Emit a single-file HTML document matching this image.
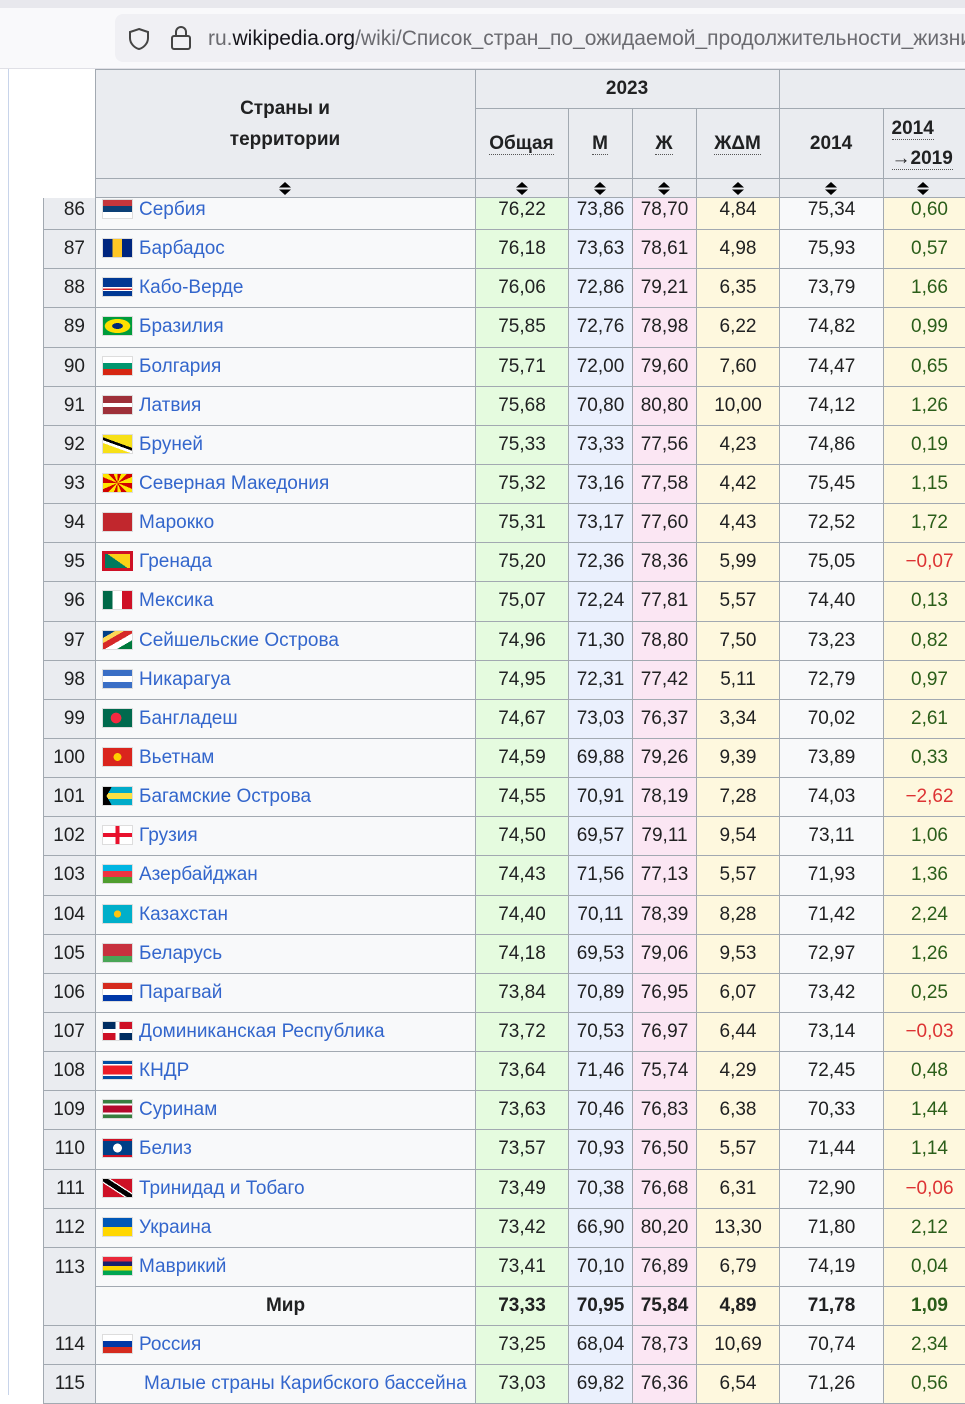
<!DOCTYPE html>
<html><head><meta charset="utf-8">
<style>
*{box-sizing:border-box;margin:0;padding:0}
body{width:965px;height:1395px;overflow:hidden;background:#fff;font-family:"Liberation Sans",Arial,sans-serif;position:relative;color:#202122}
.topbar{position:absolute;left:0;top:0;width:965px;height:8px;background:#e8e8ed}
.urlbar{position:absolute;left:0;top:8px;width:965px;height:61px;background:#f9f9fb;border-bottom:1px solid #e0e0e6}
.pill{position:absolute;left:115px;top:14px;width:860px;height:48px;background:#f0f0f4;border-radius:8px}
.url{position:absolute;left:208px;top:27px;font-size:21px;color:#6b6b70;white-space:nowrap}
.url b{font-weight:normal;color:#15141a}
.vline{position:absolute;left:8px;top:69px;width:1px;height:1326px;background:#c8d4ea}
table{border-collapse:collapse;table-layout:fixed;position:absolute;left:43px;width:932px;font-size:19px}
td{border:1px solid #a2a9b1;height:39.15px;padding:0;white-space:nowrap;overflow:hidden}
.r{background:#eaecf0;text-align:right;padding-right:10px}
.c{background:#f8f9fa;color:#3366cc;padding-left:6px}
.c i{display:inline-block;width:31px;height:20px;vertical-align:-4px;margin-right:6px;border:1px solid #ddd}
.t{background:#e5fbdf;text-align:center}
.m{background:#eaf0fd;text-align:center}
.f{background:#fbe6f3;text-align:center}
.d{background:#fef8de;text-align:center}
.y{background:#f8f9fa;text-align:center}
.g{background:#fef8de;text-align:center;color:#2b5e1a}
.n{color:#d33}
.w td{font-weight:bold}
.hd{position:absolute;left:43px;top:69px;z-index:2}
.hd td{background:#eaecf0;font-weight:bold;text-align:center;height:auto;font-size:19px;line-height:32px}
.hd td.e{background:#fff;border:none}
.u{border-bottom:1px dotted #555}
.s{line-height:10px!important}
.s svg{display:inline-block;vertical-align:middle}
</style></head><body>
<div class="topbar"></div>
<div class="urlbar"></div>
<div class="pill"></div>
<svg style="position:absolute;left:127px;top:27px" width="24" height="24" viewBox="0 0 24 24"><path d="M12 2 L21 5 V11 C21 17 16 21 12 22 C8 21 3 17 3 11 V5 Z" fill="none" stroke="#444" stroke-width="2"/></svg>
<svg style="position:absolute;left:170px;top:25px" width="22" height="26" viewBox="0 0 22 26"><rect x="2" y="11" width="18" height="13" rx="2" fill="none" stroke="#444" stroke-width="2"/><path d="M6 11 V7 A5 5 0 0 1 16 7 V11" fill="none" stroke="#444" stroke-width="2"/></svg>
<div class="url">ru.<b>wikipedia.org</b>/wiki/Список_стран_по_ожидаемой_продолжительности_жизни</div>
<div class="vline"></div>

<table class="hd">
<colgroup><col style="width:52px"><col style="width:380px"><col style="width:93px"><col style="width:64px"><col style="width:64px"><col style="width:83px"><col style="width:104px"><col style="width:92px"></colgroup>
<tr style="height:39px"><td class="e" rowspan="3"></td><td rowspan="2" style="line-height:31px">Страны и<br>территории</td><td colspan="4">2023</td><td colspan="2"></td></tr>
<tr style="height:70px"><td><span class="u">Общая</span></td><td><span class="u">М</span></td><td><span class="u">Ж</span></td><td><span class="u">ЖΔМ</span></td><td>2014</td><td style="text-align:left;padding-left:8px;line-height:30px"><span class="u">2014</span><br><span class="u">→2019</span></td></tr>
<tr style="height:19px">
<td class="s"><svg width="12" height="13"><path d="M6 0 L12 5.5 H0Z M0 7.5 H12 L6 13Z" fill="#000"/></svg></td>
<td class="s"><svg width="12" height="13"><path d="M6 0 L12 5.5 H0Z M0 7.5 H12 L6 13Z" fill="#000"/></svg></td>
<td class="s"><svg width="12" height="13"><path d="M6 0 L12 5.5 H0Z M0 7.5 H12 L6 13Z" fill="#000"/></svg></td>
<td class="s"><svg width="12" height="13"><path d="M6 0 L12 5.5 H0Z M0 7.5 H12 L6 13Z" fill="#000"/></svg></td>
<td class="s"><svg width="12" height="13"><path d="M6 0 L12 5.5 H0Z M0 7.5 H12 L6 13Z" fill="#000"/></svg></td>
<td class="s"><svg width="12" height="13"><path d="M6 0 L12 5.5 H0Z M0 7.5 H12 L6 13Z" fill="#000"/></svg></td>
<td class="s" style="text-align:left;padding-left:33px"><svg width="12" height="13"><path d="M6 0 L12 5.5 H0Z M0 7.5 H12 L6 13Z" fill="#000"/></svg></td></tr>
</table>

<table style="top:190px">
<colgroup><col style="width:52px"><col style="width:380px"><col style="width:93px"><col style="width:64px"><col style="width:64px"><col style="width:83px"><col style="width:104px"><col style="width:92px"></colgroup>
<tr><td class="r">86</td><td class="c"><i style="background:linear-gradient(#c6363c 33%,#0c4076 33% 66%,#fff 66%)"></i>Сербия</td><td class="t">76,22</td><td class="m">73,86</td><td class="f">78,70</td><td class="d">4,84</td><td class="y">75,34</td><td class="g">0,60</td></tr>
<tr><td class="r">87</td><td class="c"><i style="background:linear-gradient(90deg,#00267f 33%,#ffc726 33% 66%,#00267f 66%)"></i>Барбадос</td><td class="t">76,18</td><td class="m">73,63</td><td class="f">78,61</td><td class="d">4,98</td><td class="y">75,93</td><td class="g">0,57</td></tr>
<tr><td class="r">88</td><td class="c"><i style="background:linear-gradient(#003893 50%,#fff 50% 58%,#cf2027 58% 66%,#fff 66% 72%,#003893 72%)"></i>Кабо-Верде</td><td class="t">76,06</td><td class="m">72,86</td><td class="f">79,21</td><td class="d">6,35</td><td class="y">73,79</td><td class="g">1,66</td></tr>
<tr><td class="r">89</td><td class="c"><i style="background:radial-gradient(ellipse 45% 40%,#002776 40%,#fedf00 42%,#fedf00 95%,#009c3b 100%)"></i>Бразилия</td><td class="t">75,85</td><td class="m">72,76</td><td class="f">78,98</td><td class="d">6,22</td><td class="y">74,82</td><td class="g">0,99</td></tr>
<tr><td class="r">90</td><td class="c"><i style="background:linear-gradient(#fff 33%,#00966e 33% 66%,#d62612 66%)"></i>Болгария</td><td class="t">75,71</td><td class="m">72,00</td><td class="f">79,60</td><td class="d">7,60</td><td class="y">74,47</td><td class="g">0,65</td></tr>
<tr><td class="r">91</td><td class="c"><i style="background:linear-gradient(#9e3039 40%,#fff 40% 60%,#9e3039 60%)"></i>Латвия</td><td class="t">75,68</td><td class="m">70,80</td><td class="f">80,80</td><td class="d">10,00</td><td class="y">74,12</td><td class="g">1,26</td></tr>
<tr><td class="r">92</td><td class="c"><i style="background:linear-gradient(20deg,#f7e017 35%,#fff 35% 45%,#000 45% 55%,#f7e017 55%)"></i>Бруней</td><td class="t">75,33</td><td class="m">73,33</td><td class="f">77,56</td><td class="d">4,23</td><td class="y">74,86</td><td class="g">0,19</td></tr>
<tr><td class="r">93</td><td class="c"><i style="background:repeating-conic-gradient(#d20000 0 22deg,#ffe600 22deg 45deg)"></i>Северная Македония</td><td class="t">75,32</td><td class="m">73,16</td><td class="f">77,58</td><td class="d">4,42</td><td class="y">75,45</td><td class="g">1,15</td></tr>
<tr><td class="r">94</td><td class="c"><i style="background:#c1272d"></i>Марокко</td><td class="t">75,31</td><td class="m">73,17</td><td class="f">77,60</td><td class="d">4,43</td><td class="y">72,52</td><td class="g">1,72</td></tr>
<tr><td class="r">95</td><td class="c"><i style="background:linear-gradient(35deg,#007a5e 50%,#fcd116 50%);border:3px solid #ce1126"></i>Гренада</td><td class="t">75,20</td><td class="m">72,36</td><td class="f">78,36</td><td class="d">5,99</td><td class="y">75,05</td><td class="g n">−0,07</td></tr>
<tr><td class="r">96</td><td class="c"><i style="background:linear-gradient(90deg,#006847 33%,#fff 33% 66%,#ce1126 66%)"></i>Мексика</td><td class="t">75,07</td><td class="m">72,24</td><td class="f">77,81</td><td class="d">5,57</td><td class="y">74,40</td><td class="g">0,13</td></tr>
<tr><td class="r">97</td><td class="c"><i style="background:linear-gradient(-30deg,#007a3d 25%,#fff 25% 45%,#d62828 45% 65%,#fcd856 65% 80%,#003f87 80%)"></i>Сейшельские Острова</td><td class="t">74,96</td><td class="m">71,30</td><td class="f">78,80</td><td class="d">7,50</td><td class="y">73,23</td><td class="g">0,82</td></tr>
<tr><td class="r">98</td><td class="c"><i style="background:linear-gradient(#3a6fc6 33%,#fff 33% 66%,#3a6fc6 66%)"></i>Никарагуа</td><td class="t">74,95</td><td class="m">72,31</td><td class="f">77,42</td><td class="d">5,11</td><td class="y">72,79</td><td class="g">0,97</td></tr>
<tr><td class="r">99</td><td class="c"><i style="background:radial-gradient(circle at 45% 50%,#f42a41 28%,#006a4e 30%)"></i>Бангладеш</td><td class="t">74,67</td><td class="m">73,03</td><td class="f">76,37</td><td class="d">3,34</td><td class="y">70,02</td><td class="g">2,61</td></tr>
<tr><td class="r">100</td><td class="c"><i style="background:radial-gradient(circle,#ffcd00 22%,#da251d 24%)"></i>Вьетнам</td><td class="t">74,59</td><td class="m">69,88</td><td class="f">79,26</td><td class="d">9,39</td><td class="y">73,89</td><td class="g">0,33</td></tr>
<tr><td class="r">101</td><td class="c"><i style="background:linear-gradient(60deg,#000 22%,transparent 22%),linear-gradient(120deg,#000 22%,transparent 22%),linear-gradient(#00abc9 33%,#fae042 33% 66%,#00abc9 66%)"></i>Багамские Острова</td><td class="t">74,55</td><td class="m">70,91</td><td class="f">78,19</td><td class="d">7,28</td><td class="y">74,03</td><td class="g n">−2,62</td></tr>
<tr><td class="r">102</td><td class="c"><i style="background:linear-gradient(90deg,transparent 43%,#e8112d 43% 57%,transparent 57%),linear-gradient(#fff 40%,#e8112d 40% 60%,#fff 60%)"></i>Грузия</td><td class="t">74,50</td><td class="m">69,57</td><td class="f">79,11</td><td class="d">9,54</td><td class="y">73,11</td><td class="g">1,06</td></tr>
<tr><td class="r">103</td><td class="c"><i style="background:linear-gradient(#00b5e2 33%,#ef3340 33% 66%,#509e2f 66%)"></i>Азербайджан</td><td class="t">74,43</td><td class="m">71,56</td><td class="f">77,13</td><td class="d">5,57</td><td class="y">71,93</td><td class="g">1,36</td></tr>
<tr><td class="r">104</td><td class="c"><i style="background:radial-gradient(circle,#fec50c 20%,#00afca 22%)"></i>Казахстан</td><td class="t">74,40</td><td class="m">70,11</td><td class="f">78,39</td><td class="d">8,28</td><td class="y">71,42</td><td class="g">2,24</td></tr>
<tr><td class="r">105</td><td class="c"><i style="background:linear-gradient(#c8313e 66%,#4aa657 66%)"></i>Беларусь</td><td class="t">74,18</td><td class="m">69,53</td><td class="f">79,06</td><td class="d">9,53</td><td class="y">72,97</td><td class="g">1,26</td></tr>
<tr><td class="r">106</td><td class="c"><i style="background:linear-gradient(#d52b1e 33%,#fff 33% 66%,#0038a8 66%)"></i>Парагвай</td><td class="t">73,84</td><td class="m">70,89</td><td class="f">76,95</td><td class="d">6,07</td><td class="y">73,42</td><td class="g">0,25</td></tr>
<tr><td class="r">107</td><td class="c"><i style="background:linear-gradient(90deg,transparent 43%,#fff 43% 57%,transparent 57%),linear-gradient(transparent 40%,#fff 40% 60%,transparent 60%),conic-gradient(#ce1126 0 90deg,#002d62 90deg 180deg,#ce1126 180deg 270deg,#002d62 270deg)"></i>Доминиканская Республика</td><td class="t">73,72</td><td class="m">70,53</td><td class="f">76,97</td><td class="d">6,44</td><td class="y">73,14</td><td class="g n">−0,03</td></tr>
<tr><td class="r">108</td><td class="c"><i style="background:linear-gradient(#024fa2 18%,#fff 18% 24%,#ed1c27 24% 76%,#fff 76% 82%,#024fa2 82%)"></i>КНДР</td><td class="t">73,64</td><td class="m">71,46</td><td class="f">75,74</td><td class="d">4,29</td><td class="y">72,45</td><td class="g">0,48</td></tr>
<tr><td class="r">109</td><td class="c"><i style="background:linear-gradient(#377e3f 20%,#fff 20% 30%,#b40a2d 30% 70%,#fff 70% 80%,#377e3f 80%)"></i>Суринам</td><td class="t">73,63</td><td class="m">70,46</td><td class="f">76,83</td><td class="d">6,38</td><td class="y">70,33</td><td class="g">1,44</td></tr>
<tr><td class="r">110</td><td class="c"><i style="background:radial-gradient(circle,#fff 25%,transparent 27%),linear-gradient(#ce1126 12%,#003f87 12% 88%,#ce1126 88%)"></i>Белиз</td><td class="t">73,57</td><td class="m">70,93</td><td class="f">76,50</td><td class="d">5,57</td><td class="y">71,44</td><td class="g">1,14</td></tr>
<tr><td class="r">111</td><td class="c"><i style="background:linear-gradient(33deg,#ce1126 38%,#fff 38% 42%,#000 42% 58%,#fff 58% 62%,#ce1126 62%)"></i>Тринидад и Тобаго</td><td class="t">73,49</td><td class="m">70,38</td><td class="f">76,68</td><td class="d">6,31</td><td class="y">72,90</td><td class="g n">−0,06</td></tr>
<tr><td class="r">112</td><td class="c"><i style="background:linear-gradient(#0057b7 50%,#ffd700 50%)"></i>Украина</td><td class="t">73,42</td><td class="m">66,90</td><td class="f">80,20</td><td class="d">13,30</td><td class="y">71,80</td><td class="g">2,12</td></tr>
<tr><td class="r" rowspan="2" style="vertical-align:top;padding-top:9px">113</td><td class="c"><i style="background:linear-gradient(#ea2839 25%,#1a206d 25% 50%,#ffd500 50% 75%,#00a551 75%)"></i>Маврикий</td><td class="t">73,41</td><td class="m">70,10</td><td class="f">76,89</td><td class="d">6,79</td><td class="y">74,19</td><td class="g">0,04</td></tr>
<tr class="w"><td class="c" style="color:#202122;text-align:center;padding-left:0">Мир</td><td class="t">73,33</td><td class="m">70,95</td><td class="f">75,84</td><td class="d">4,89</td><td class="y">71,78</td><td class="g">1,09</td></tr>
<tr><td class="r">114</td><td class="c"><i style="background:linear-gradient(#fff 33%,#0039a6 33% 66%,#d52b1e 66%)"></i>Россия</td><td class="t">73,25</td><td class="m">68,04</td><td class="f">78,73</td><td class="d">10,69</td><td class="y">70,74</td><td class="g">2,34</td></tr>
<tr><td class="r">115</td><td class="c" style="padding-left:48px">Малые страны Карибского бассейна</td><td class="t">73,03</td><td class="m">69,82</td><td class="f">76,36</td><td class="d">6,54</td><td class="y">71,26</td><td class="g">0,56</td></tr>
</table>
</body></html>
